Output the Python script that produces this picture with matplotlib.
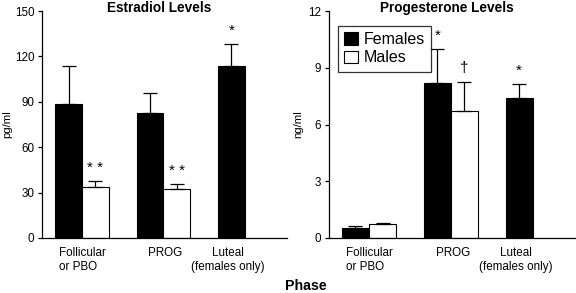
import numpy as np
import matplotlib
matplotlib.use('Agg')
from matplotlib import pyplot as plt

plt.rcParams['font.family'] = ['Liberation Sans', 'DejaVu Sans']

phases = ['Follicular\nor PBO', 'PROG', 'Luteal\n(females only)']

# estradiol (pg/ml)
e2_f = [88.5, 82.5, 113.5]
e2_f_err = [25.5, 13.5, 14.5]
e2_m = [34.0, 32.5]
e2_m_err = [3.5, 3.0]
e2_marks_f = ['', '', '*']
e2_marks_m = ['* *', '* *']

# progesterone (ng/ml)
p4_f = [0.55, 8.2, 7.4]
p4_f_err = [0.08, 1.8, 0.75]
p4_m = [0.72, 6.7]
p4_m_err = [0.07, 1.55]
p4_marks_f = ['', '*', '*']
p4_marks_m = ['', '\u2020']

fig = plt.figure(figsize=(5.76, 2.93), dpi=100)
ax1 = fig.add_axes([0.073, 0.188, 0.425, 0.774])
ax2 = fig.add_axes([0.571, 0.188, 0.427, 0.774])

w = 0.33


def panel(ax, f, ferr, m, merr, mf, mm, ymax, step, ylabel, title, labx, legend=False):
    xf = np.arange(len(f))
    xm = np.arange(len(m)) + w
    ax.bar(xf, f, w, color='black', edgecolor='black', linewidth=0.8, label='Females')
    ax.bar(xm, m, w, color='white', edgecolor='black', linewidth=0.8, label='Males')
    ax.errorbar(xf, f, yerr=[np.zeros(len(f)), ferr], fmt='none', ecolor='black',
                elinewidth=0.9, capsize=4.7, capthick=0.9)
    ax.errorbar(xm, m, yerr=[np.zeros(len(m)), merr], fmt='none', ecolor='black',
                elinewidth=0.9, capsize=4.7, capthick=0.9)
    off = ymax * 0.06
    for x, v, e, s in zip(xf, f, ferr, mf):
        if s:
            ax.text(x, v + e + off, s, ha='center', va='center', fontsize=11)
    for x, v, e, s in zip(xm, m, merr, mm):
        if s:
            ax.text(x, v + e + off, s, ha='center', va='center', fontsize=11)
    ax.set_xlim(-0.325, 2.68)
    ax.set_ylim(0, ymax)
    ax.set_yticks(np.arange(0, ymax + 0.01, step))
    ax.set_xticks([w / 2 + 0.01, 1.19, 1.96])
    ax.set_xticklabels(phases, fontsize=8.4)
    for lab in ax.get_xticklabels():
        lab.set_multialignment('left' if lab.get_text().startswith('Foll') else 'center')
    ax.tick_params(axis='x', length=0, pad=6.5)
    ax.tick_params(axis='y', labelsize=8.4, length=3, width=0.9, direction='out', pad=2.5)
    ax.spines['top'].set_visible(False)
    ax.spines['right'].set_visible(False)
    ax.spines['left'].set_linewidth(0.9)
    ax.spines['bottom'].set_linewidth(0.9)
    ax.set_ylabel(ylabel, fontsize=8.2)
    ax.yaxis.set_label_coords(labx, 0.5)
    ax.text(0.48, 1.015, title, transform=ax.transAxes, ha='center', va='center',
            fontsize=9.8, fontweight='bold')
    if legend:
        leg = ax.legend(loc='upper left', bbox_to_anchor=(0.035, 0.935), fontsize=11.5,
                        frameon=True, fancybox=False, edgecolor='black',
                        handlelength=0.9, handleheight=0.85, handletextpad=0.35,
                        borderpad=0.4, labelspacing=0.2, borderaxespad=0)
        leg.get_frame().set_linewidth(0.9)


panel(ax1, e2_f, e2_f_err, e2_m, e2_m_err, e2_marks_f, e2_marks_m, 150, 30,
      'pg/ml', 'Estradiol Levels', -0.122)
panel(ax2, p4_f, p4_f_err, p4_m, p4_m_err, p4_marks_f, p4_marks_m, 12, 3,
      'ng/ml', 'Progesterone Levels', -0.106, legend=True)

fig.text(0.531, 0.025, 'Phase', ha='center', va='center', fontsize=10.2, fontweight='bold')

fig.savefig('out.png', dpi=100)
